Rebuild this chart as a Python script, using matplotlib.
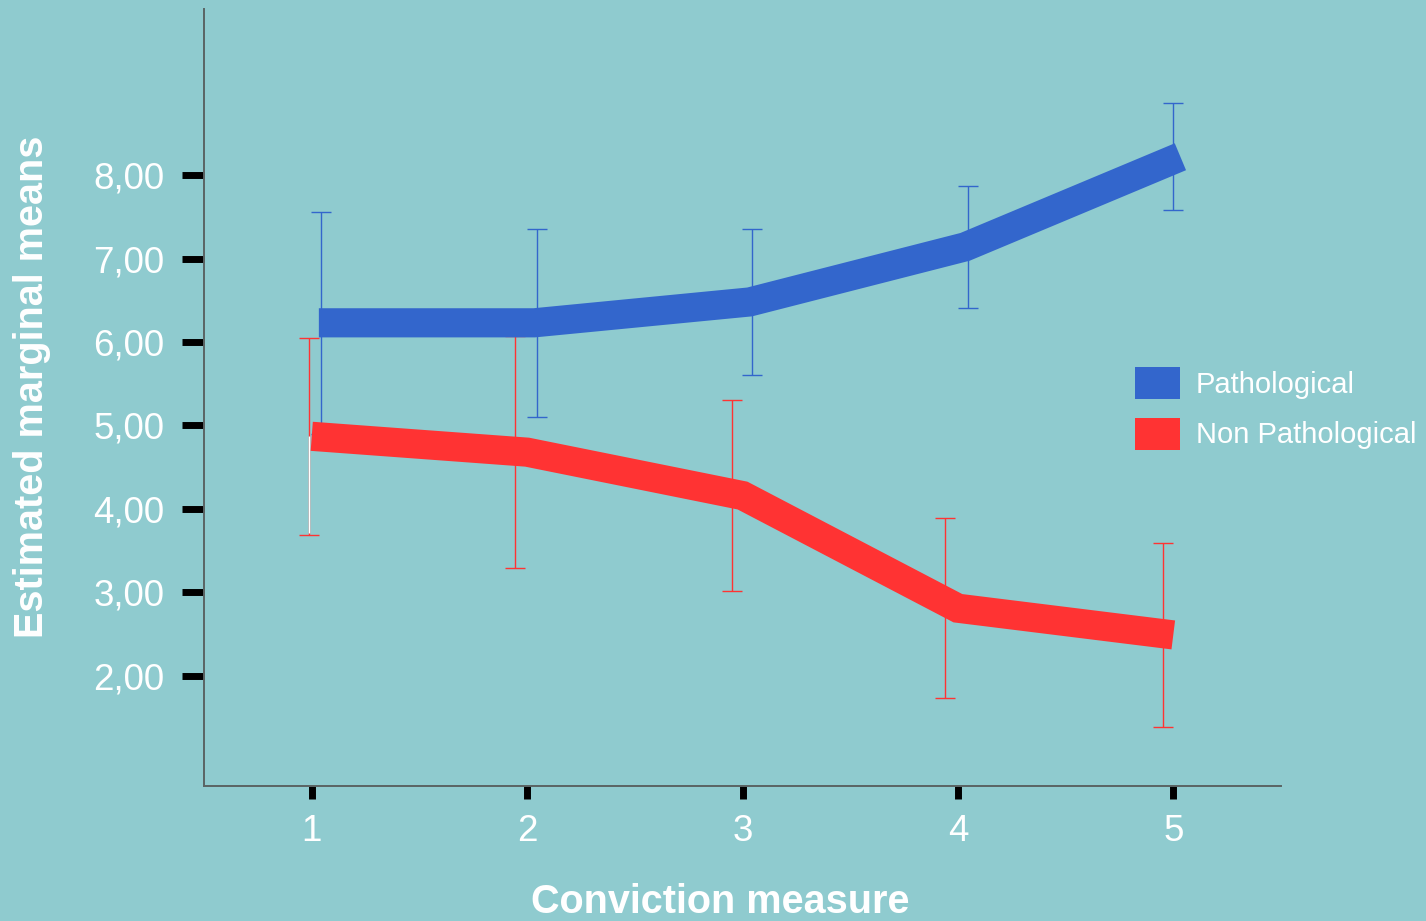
import matplotlib.pyplot as plt
from matplotlib.patches import Patch

# data
measures = [1, 2, 3, 4, 5]
patho_means = [6.23, 6.23, 6.48, 7.14, 8.22]
patho_err = [1.33, 1.13, 0.88, 0.73, 0.64]
nonpatho_means = [4.87, 4.68, 4.16, 2.81, 2.49]
nonpatho_err = [1.18, 1.39, 1.14, 1.08, 1.10]
group_names = ['Pathological', 'Non Pathological']
y_ticks = [2, 3, 4, 5, 6, 7, 8]
y_tick_labels = ['2,00', '3,00', '4,00', '5,00', '6,00', '7,00', '8,00']

# small horizontal dodges used in the original
blue_line_dx = 0.033
blue_bar_dx = [0.045, 0.045, 0.045, 0.045, 0.0]
red_bar_dx = [-0.015, -0.055, -0.05, -0.06, -0.05]

bg = '#8fcbcf'
blue = '#3366cc'
red = '#ff3333'

plt.rcParams['font.family'] = ['Liberation Sans', 'DejaVu Sans']

fig = plt.figure(figsize=(14.26, 9.21), dpi=100, facecolor=bg)
ax = fig.add_axes([0.1431, 0.1466, 0.7552, 0.8436])
ax.set_facecolor(bg)

# error bars
ax.errorbar([m + d for m, d in zip(measures, blue_bar_dx)], patho_means,
            yerr=patho_err, fmt='none', ecolor=blue, elinewidth=1,
            capsize=7, capthick=1, zorder=2)
ax.errorbar([m + d for m, d in zip(measures, red_bar_dx)], nonpatho_means,
            yerr=nonpatho_err, fmt='none', ecolor=red, elinewidth=1,
            capsize=7, capthick=1, zorder=2)
# the lower half of the first red bar is white in the original
ax.vlines(measures[0] + red_bar_dx[0], nonpatho_means[0] - nonpatho_err[0] + 0.02,
          nonpatho_means[0], color='white', lw=1, zorder=2.5)

# mean lines
ax.plot([m + blue_line_dx for m in measures], patho_means, color=blue, lw=21,
        solid_capstyle='butt', solid_joinstyle='miter', zorder=3)
ax.plot(measures, nonpatho_means, color=red, lw=21,
        solid_capstyle='butt', solid_joinstyle='miter', zorder=3)

ax.set_xlim(0.5, 5.5)
ax.set_ylim(0.68, 9.99)
ax.set_xticks(measures)
ax.set_xticklabels([str(m) for m in measures])
ax.set_yticks(y_ticks)
ax.set_yticklabels(y_tick_labels)

for side in ['top', 'right']:
    ax.spines[side].set_visible(False)
for side in ['left', 'bottom']:
    ax.spines[side].set_color('#5a6464')
    ax.spines[side].set_linewidth(1.4)

ax.tick_params(axis='y', length=16, width=5, color='black', pad=12.5,
               labelsize=26.5, labelcolor='white')
ax.tick_params(axis='x', length=9, width=5, color='black', pad=11,
               labelsize=26.5, labelcolor='white')

fig.text(720 / 1426, 1 - 913 / 921, 'Conviction measure', color='white',
         fontsize=28.5, fontweight='bold', ha='center', va='baseline')
fig.text(43 / 1426, 1 - 387 / 921, 'Estimated marginal means', color='white',
         fontsize=28.5, fontweight='bold', rotation=90, rotation_mode='anchor',
         ha='center', va='baseline')

handles = [Patch(facecolor=blue, edgecolor='none'),
           Patch(facecolor=red, edgecolor='none')]
fig.legend(handles, group_names, loc='upper left',
           bbox_to_anchor=(1135 / 1426, 1 - 367 / 921), frameon=False,
           fontsize=21, handlelength=1.54, handleheight=1.3,
           handletextpad=0.55, labelspacing=0.65, borderpad=0,
           borderaxespad=0, labelcolor='white')

fig.savefig('out.png', dpi=100, facecolor=bg)
